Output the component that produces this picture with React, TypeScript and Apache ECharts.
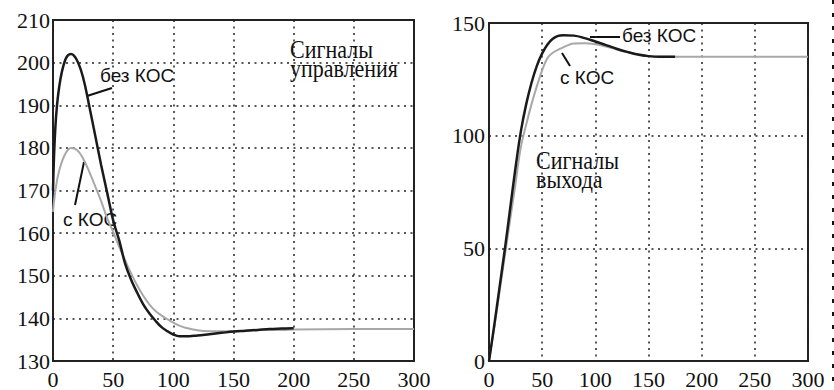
import React, { useEffect, useRef } from "react";
import * as echarts from "echarts";

// Left panel: control signals (Сигналы управления)
const leftBlackT = [0, 2, 5, 10, 15, 20, 25, 30, 35, 40, 45, 50, 55, 60, 65, 70, 75, 80, 85, 90, 95, 100, 105, 110, 120, 130, 140, 150, 160, 170, 180, 190, 200];
const leftBlackV = [170, 185, 194, 200.5, 202, 200.5, 196.5, 190, 183, 176, 169.5, 163, 158.3, 152.8, 149, 146, 143.3, 141.2, 139.5, 138, 137, 136.2, 135.8, 135.8, 136, 136.3, 136.6, 136.9, 137.1, 137.3, 137.5, 137.6, 137.7];
const leftGrayT = [0, 2, 5, 10, 15, 20, 25, 30, 35, 40, 45, 50, 55, 60, 65, 70, 75, 80, 85, 90, 95, 100, 105, 110, 120, 130, 140, 150, 160, 170, 180, 190, 200, 250, 300];
const leftGrayV = [165, 170, 174.5, 178.5, 180, 179.5, 177.5, 174.5, 171, 167.5, 163.5, 160.3, 156.8, 153.6, 150.5, 147.7, 145.3, 143.3, 141.8, 140.7, 139.8, 139, 138.3, 137.8, 137.2, 137, 137, 137, 137.1, 137.2, 137.3, 137.3, 137.4, 137.5, 137.5];

// Right panel: output signals (Сигналы выхода)
const rightBlackT = [0, 5, 10, 15, 20, 25, 30, 35, 40, 45, 50, 55, 60, 65, 70, 80, 90, 100, 110, 120, 130, 140, 150, 160, 175];
const rightBlackV = [0, 16, 33, 50, 68, 86, 102, 114, 123.5, 131, 136.5, 140.5, 143, 144.3, 144.6, 144.4, 143.3, 141.8, 140.2, 138.6, 137.2, 136, 135.3, 135, 135];
const rightGrayT = [0, 5, 10, 15, 20, 25, 30, 35, 40, 45, 50, 55, 60, 67, 75, 80, 90, 100, 110, 120, 130, 140, 150, 160, 200, 250, 300];
const rightGrayV = [0, 15, 31, 47, 63, 79, 95, 105, 114, 122, 129, 134.5, 136.8, 138.6, 140.3, 140.9, 141, 140.6, 139.6, 138.2, 137, 136, 135.3, 135, 135, 135, 135];

const labelNoFeedback = "без КОС";
const labelFeedback = "с КОС";
const titleLeft = "Сигналы\nуправления";
const titleRight = "Сигналы\nвыхода";

const pairs = (t: number[], v: number[]) => t.map((x, i) => [x, v[i]]);

const SERIF = "'Liberation Serif', 'Times New Roman', serif";
const SANS = "'Liberation Sans', Arial, sans-serif";

export default function App() {
  const ref = useRef<HTMLDivElement>(null);
  useEffect(() => {
    const chart = echarts.init(ref.current!, null, { renderer: "svg" });
    const split = { show: true, lineStyle: { color: "#222", width: 1.5, type: [2, 4.5] } };
    const axLabel = { fontFamily: SERIF, fontSize: 22, color: "#111" };
    const xAxisBase = {
      type: "value",
      min: 0,
      max: 300,
      interval: 50,
      axisLine: { show: false },
      axisTick: { show: false },
      splitLine: split,
      axisLabel: { ...axLabel, margin: 7 },
    };
    const sansText = (x: number, y: number, text: string) => ({
      type: "text",
      x,
      y,
      style: { text, fontFamily: SANS, fontSize: 19, fill: "#111", verticalAlign: "middle", align: "left" },
    });
    const serifBlock = (x: number, y: number, text: string) => ({
      type: "text",
      x,
      y,
      scaleX: 0.88,
      style: { text, fontFamily: SERIF, fontSize: 25, lineHeight: 20, fill: "#111", verticalAlign: "middle", align: "left" },
    });
    const leader = (x1: number, y1: number, x2: number, y2: number) => ({
      type: "line",
      shape: { x1, y1, x2, y2 },
      style: { stroke: "#111", lineWidth: 2 },
    });
    chart.setOption({
      animation: false,
      backgroundColor: "#fff",
      grid: [
        { left: 53, top: 20, width: 361, height: 344, show: true, borderColor: "#222", borderWidth: 2, backgroundColor: "transparent" },
        { left: 489, top: 23, width: 319, height: 340, show: true, borderColor: "#222", borderWidth: 2, backgroundColor: "transparent" },
      ],
      xAxis: [
        { ...xAxisBase, gridIndex: 0 },
        { ...xAxisBase, gridIndex: 1 },
      ],
      yAxis: [
        {
          type: "value", gridIndex: 0, min: 130, max: 210, interval: 10,
          axisLine: { show: false }, axisTick: { show: false }, splitLine: split,
          axisLabel: { ...axLabel, margin: 3 },
        },
        {
          type: "value", gridIndex: 1, min: 0, max: 150, interval: 50,
          axisLine: { show: false }, axisTick: { show: false }, splitLine: split,
          axisLabel: { ...axLabel, margin: 4 },
        },
      ],
      series: [
        { type: "line", xAxisIndex: 0, yAxisIndex: 0, data: pairs(leftGrayT, leftGrayV), smooth: 0.4, showSymbol: false, lineStyle: { color: "#a8a8a8", width: 2 } },
        { type: "line", xAxisIndex: 0, yAxisIndex: 0, data: pairs(leftBlackT, leftBlackV), smooth: 0.4, showSymbol: false, lineStyle: { color: "#1a1a1a", width: 2.5 } },
        { type: "line", xAxisIndex: 1, yAxisIndex: 1, data: pairs(rightGrayT, rightGrayV), smooth: 0.4, showSymbol: false, lineStyle: { color: "#a8a8a8", width: 2 } },
        { type: "line", xAxisIndex: 1, yAxisIndex: 1, data: pairs(rightBlackT, rightBlackV), smooth: 0.4, showSymbol: false, lineStyle: { color: "#1a1a1a", width: 2.5 } },
      ],
      graphic: [
        sansText(100, 75, labelNoFeedback),
        leader(112, 88, 87, 96),
        sansText(63, 219, labelFeedback),
        leader(84, 162, 75, 205),
        serifBlock(290, 59, titleLeft),
        sansText(622, 35, labelNoFeedback),
        leader(590, 37, 620, 37),
        sansText(560, 77, labelFeedback),
        leader(562, 53, 570, 66),
        serifBlock(536, 170, titleRight),
        {
          type: "line",
          shape: { x1: 833, y1: 0, x2: 833, y2: 390 },
          style: { stroke: "#111", lineWidth: 2, lineDash: [4, 9] },
        },
      ],
    });
    return () => chart.dispose();
  }, []);
  return <div ref={ref} style={{ position: "absolute", left: 0, top: 0, width: 834, height: 390, background: "#fff" }} />;
}
